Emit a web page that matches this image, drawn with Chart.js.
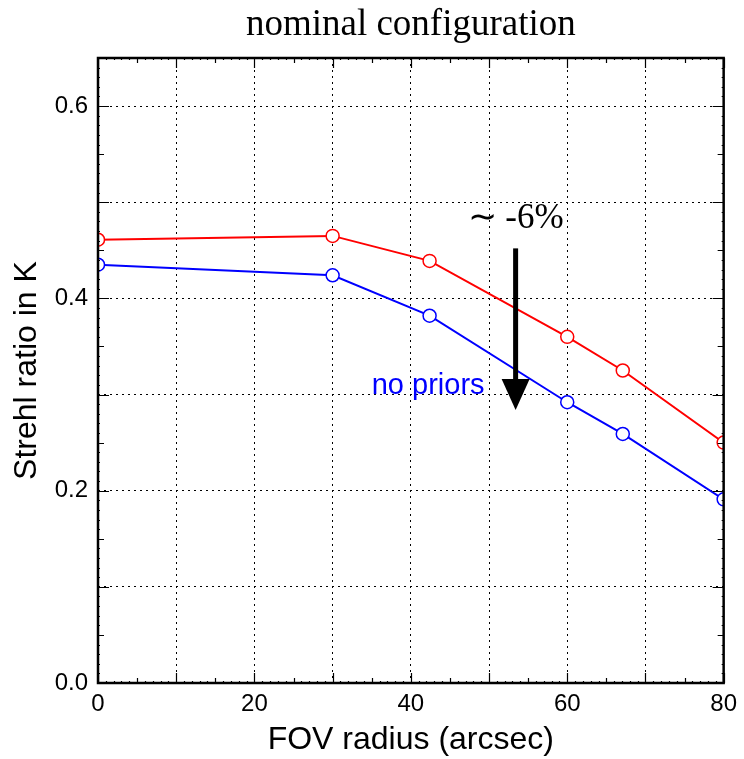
<!DOCTYPE html>
<html>
<head>
<meta charset="utf-8">
<script src="https://cdn.jsdelivr.net/npm/chart.js@4.4.0/dist/chart.umd.min.js"></script>
<style>
  html, body { margin: 0; padding: 0; background: #fff; }
  #wrap { width: 744px; height: 759px; }
</style>
</head>
<body>
<div id="wrap"><canvas id="chart" width="744" height="759"></canvas></div>
<script>
// FOV radius (arcsec) and Strehl ratio in K
var fovRadius = [0, 30, 42.4, 60, 67.1, 80];
var strehlWithPriors = [0.461, 0.465, 0.439, 0.360, 0.325, 0.250];
var strehlNoPriors = [0.435, 0.424, 0.382, 0.292, 0.259, 0.191];

var xTickLabels = [0, 20, 40, 60, 80];
var yTickLabels = [0.0, 0.2, 0.4, 0.6];

// annotations (data coordinates)
var arrowX = 53.4, arrowFrom = 0.452, arrowTo = 0.284;
var dropLabel = '\u223C -6%';
var noPriorsLabel = 'no priors';

function points(xs, ys) {
    return xs.map(function (x, i) { return { x: x, y: ys[i] }; });
}

// frame, inward ticks on all four sides, and the arrow/labels
var framePlugin = {
    id: 'frame',
    afterDatasetsDraw: function (chart) {
        var ctx = chart.ctx, a = chart.chartArea;
        var xs = chart.scales.x, ys = chart.scales.y;
        ctx.save();
        ctx.strokeStyle = '#000';
        ctx.lineWidth = 1.2;
        ctx.beginPath();
        for (var i = 0; i <= 80; i++) {
            var len = i % 10 === 0 ? 10 : (i % 5 === 0 ? 5 : 2);
            var px = Math.round(xs.getPixelForValue(i)) + 0.5;
            ctx.moveTo(px, a.bottom); ctx.lineTo(px, a.bottom - len);
            ctx.moveTo(px, a.top); ctx.lineTo(px, a.top + len);
        }
        for (var j = 0; j <= 65; j++) {
            var l2 = j % 10 === 0 ? 11 : (j % 5 === 0 ? 6 : 2);
            var py = Math.round(ys.getPixelForValue(j / 100)) + 0.5;
            ctx.moveTo(a.left, py); ctx.lineTo(a.left + l2, py);
            ctx.moveTo(a.right, py); ctx.lineTo(a.right - l2, py);
        }
        ctx.stroke();
        ctx.lineWidth = 2.5;
        ctx.strokeRect(a.left, a.top, a.right - a.left, a.bottom - a.top);

        // arrow
        var ax = xs.getPixelForValue(arrowX);
        var y0 = ys.getPixelForValue(arrowFrom), y1 = ys.getPixelForValue(arrowTo);
        ctx.fillStyle = '#000';
        ctx.fillRect(ax - 2.5, y0, 5, (y1 - 30) - y0);
        ctx.beginPath();
        ctx.moveTo(ax - 14, y1 - 31);
        ctx.lineTo(ax + 14, y1 - 31);
        ctx.lineTo(ax, y1);
        ctx.closePath();
        ctx.fill();

        ctx.font = '35px "Liberation Serif", "Times New Roman", serif';
        ctx.textAlign = 'center';
        ctx.textBaseline = 'alphabetic';
        ctx.fillText(dropLabel, ax, ys.getPixelForValue(0.473));

        ctx.fillStyle = '#0000ff';
        ctx.font = '29px "Liberation Sans", Arial, sans-serif';
        ctx.textAlign = 'left';
        ctx.fillText(noPriorsLabel, xs.getPixelForValue(35.0), ys.getPixelForValue(0.301));
        ctx.restore();
    }
};

var ctx = document.getElementById('chart').getContext('2d');
var chart = new Chart(ctx, {
    type: 'scatter',
    data: {
        datasets: [{
            label: 'with priors',
            data: points(fovRadius, strehlWithPriors),
            showLine: true,
            borderColor: '#ff0000',
            backgroundColor: '#ffffff',
            borderWidth: 2,
            pointRadius: 6.5,
            pointBorderWidth: 1.5,
            pointBackgroundColor: '#ffffff',
            pointBorderColor: '#ff0000',
            clip: 0
        }, {
            label: 'no priors',
            data: points(fovRadius, strehlNoPriors),
            showLine: true,
            borderColor: '#0000ff',
            backgroundColor: '#ffffff',
            borderWidth: 2,
            pointRadius: 6.5,
            pointBorderWidth: 1.5,
            pointBackgroundColor: '#ffffff',
            pointBorderColor: '#0000ff',
            clip: 0
        }]
    },
    options: {
        responsive: false,
        animation: false,
        layout: { padding: { left: 0, right: 18, top: 0, bottom: 0 } },
        plugins: {
            legend: { display: false },
            tooltip: { enabled: false },
            title: {
                display: true,
                text: 'nominal configuration',
                fullSize: false,
                color: '#000',
                font: { family: '"Liberation Serif", "Times New Roman", serif', size: 37, weight: 'normal' },
                padding: { top: 3, bottom: 10.6 }
            }
        },
        scales: {
            x: {
                type: 'linear',
                min: 0,
                max: 80,
                afterFit: function (s) { s.height = 76; },
                ticks: {
                    stepSize: 10,
                    padding: 7,
                    color: '#000',
                    font: { family: '"Liberation Sans", Arial, sans-serif', size: 24 },
                    maxRotation: 0,
                    callback: function (v) { return xTickLabels.indexOf(v) >= 0 ? String(v) : ''; }
                },
                grid: { color: '#000', lineWidth: 1, drawTicks: false, tickLength: 0 },
                border: { display: false, dash: [2, 4] },
                title: {
                    display: true,
                    text: 'FOV radius (arcsec)',
                    color: '#000',
                    font: { family: '"Liberation Sans", Arial, sans-serif', size: 32 },
                    padding: { top: 0, bottom: 0 }
                }
            },
            y: {
                type: 'linear',
                min: 0,
                max: 0.65,
                afterFit: function (s) { s.width = 98; },
                ticks: {
                    stepSize: 0.1,
                    padding: 10,
                    color: '#000',
                    font: { family: '"Liberation Sans", Arial, sans-serif', size: 24 },
                    callback: function (v) {
                        for (var k = 0; k < yTickLabels.length; k++) {
                            if (Math.abs(v - yTickLabels[k]) < 1e-6) return yTickLabels[k].toFixed(1);
                        }
                        return '';
                    }
                },
                grid: { color: '#000', lineWidth: 1, drawTicks: false, tickLength: 0 },
                border: { display: false, dash: [2, 4] },
                title: {
                    display: true,
                    text: 'Strehl ratio in K',
                    color: '#000',
                    font: { family: '"Liberation Sans", Arial, sans-serif', size: 32 },
                    padding: { top: 8, bottom: 0 }
                }
            }
        }
    },
    plugins: [framePlugin]
});
</script>
</body>
</html>
